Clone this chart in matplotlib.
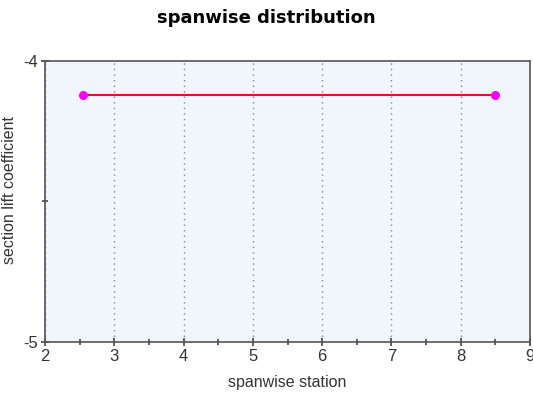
import numpy as np
import matplotlib.pyplot as plt
from matplotlib.ticker import MultipleLocator

station = [2.55, 8.5]
lift = [-4.12, -4.12]

plt.rcParams['font.family'] = ['Liberation Sans', 'DejaVu Sans']

fig = plt.figure(figsize=(5.33, 3.93), dpi=100)
ax = fig.add_axes([0.0844, 0.1298, 0.91, 0.715])
ax.set_facecolor('#f0f6fc')

ax.plot(station, lift, color='#e0102a', lw=1.5, marker='o', ms=5.5,
        mfc='#ff00ff', mec='#ff00ff', zorder=3)

ax.set_xlim(2, 9)
ax.set_ylim(-5, -4)
ax.xaxis.set_major_locator(MultipleLocator(1))
ax.xaxis.set_minor_locator(MultipleLocator(0.5))
ax.yaxis.set_major_locator(MultipleLocator(1))
ax.yaxis.set_minor_locator(MultipleLocator(0.5))
ax.grid(axis='x', which='major', ls=(0, (1, 3)), color='#888888', lw=1.0)

for s in ax.spines.values():
    s.set_color('#555555')
    s.set_linewidth(1.2)
ax.tick_params(which='both', direction='inout', color='#444444', width=1.2,
               labelsize=12, labelcolor='#333333', pad=2)
ax.tick_params(which='major', length=6)
ax.tick_params(which='minor', length=5)
ax.set_yticks([-5, -4])
ax.set_yticklabels(['-5', '-4'])

ax.set_xlabel('spanwise station', fontsize=11.5, color='#333333', labelpad=8)
ax.set_ylabel('section lift coefficient', fontsize=11.5, color='#333333')
ax.yaxis.set_label_coords(-0.057, 0.54)
fig.text(0.5, 0.955, 'spanwise distribution', ha='center', va='center',
         fontsize=13, fontweight='heavy', family='DejaVu Sans', color='black')

fig.savefig('out.png', dpi=100)
